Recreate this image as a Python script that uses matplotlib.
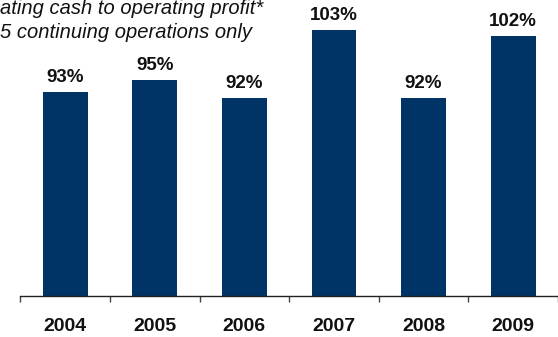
import matplotlib
matplotlib.use("Agg")
import matplotlib.pyplot as plt

plt.rcParams['font.family'] = ['Liberation Sans', 'DejaVu Sans']

years = ['2004', '2005', '2006', '2007', '2008', '2009']
ratio_pct = [93, 95, 92, 103, 92, 102]
value_labels = ['93%', '95%', '92%', '103%', '92%', '102%']
title_lines = ['ating cash to operating profit*', '5 continuing operations only']

W, H, DPI = 558, 337, 100
fig = plt.figure(figsize=(W / DPI, H / DPI), dpi=DPI)

# axes geometry in pixels
ax_left, ax_right = 20.4, 558.0
ax_bottom_px = 296.0  # from top
ax = fig.add_axes([ax_left / W, (H - ax_bottom_px) / H,
                   (ax_right - ax_left) / W, ax_bottom_px / H])

x = list(range(len(years)))
bar_color = '#003366'
ax.bar(x, ratio_pct, width=0.5, color=bar_color, zorder=2)

ax.set_ylim(60, 60 + 296 / 6.18)
ax.set_xlim(-0.5, -0.5 + (ax_right - ax_left) / 91.4)

for xi, v, lab in zip(x, ratio_pct, value_labels):
    ax.annotate(lab, xy=(xi, v), xytext=(0, 7.2), textcoords='offset points',
                ha='center', va='baseline', fontsize=13.5, fontweight='bold',
                color='#111111')

# spines
for s in ['top', 'right', 'left']:
    ax.spines[s].set_visible(False)
ax.spines['bottom'].set_color('#222222')
ax.spines['bottom'].set_linewidth(1.0)
ax.set_yticks([])

# category boundary ticks and centred year labels
ax.set_xticks([i - 0.5 for i in range(len(years) + 1)], minor=True)
ax.tick_params(axis='x', which='minor', length=4.5, width=1.0, color='#444444',
               direction='out')
ax.set_xticks(x)
ax.set_xticklabels(years, fontsize=14, fontweight='bold', color='#111111')
ax.tick_params(axis='x', which='major', length=0, pad=16)

# heading text at top-left
fig.text(0.0, 1 - 14.5 / H, title_lines[0], ha='left', va='baseline',
         fontsize=14.5, fontstyle='italic', color='#111111')
fig.text(0.0, 1 - 37.5 / H, title_lines[1], ha='left', va='baseline',
         fontsize=14.5, fontstyle='italic', color='#111111')

fig.savefig('out.png', dpi=DPI)
